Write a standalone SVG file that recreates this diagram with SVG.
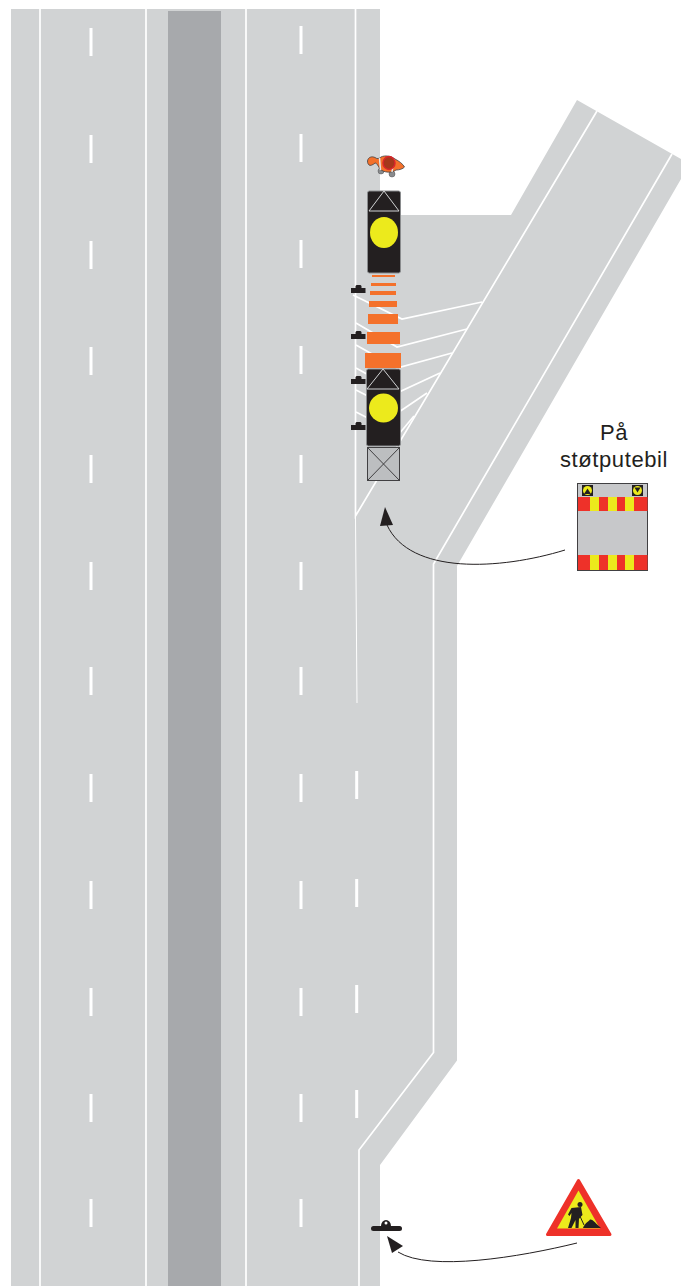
<svg xmlns="http://www.w3.org/2000/svg" width="681" height="1286" viewBox="0 0 681 1286">
<style>
.w{fill:none;stroke:#fff;stroke-width:1.700}
.d{fill:#fff}
.o{fill:#f4712b}
.tk{fill:#231f20;stroke:#8a8c8e;stroke-width:1}
.tri{fill:none;stroke:#d1d3d4;stroke-width:1}
.y{fill:#ecea1c}
.k{fill:#231f20}
.r{fill:#ee3129}
.a{fill:none;stroke:#231f20;stroke-width:1}
.t{font-family:"Liberation Sans",Arial,sans-serif;font-size:22px;letter-spacing:.6px;fill:#231f20;text-anchor:middle}
</style>
<defs>
<rect id="dash" x="-1.500" y="0" width="3" height="28" class="d"/>
<path id="cone" class="k" d="M351 3H355.500V1L356.500 0H360.500L361.500 1V3H365.500V8H351Z"/>
</defs>
<g id="road">
<path fill="#d1d3d4" d="M11 9H380V215H511L577 100L681 159V179L457 566V1060.500L380 1165V1286H11Z"/>
<rect x="168" y="11" width="53" height="1275" fill="#a7a9ac"/>
</g>
<g id="markings">
<path class="w" d="M40 9V1286M146 9V1286M246 9V1286"/>
<path class="w" d="M355.500 9V516L597 111"/>
<path d="M355.500 516L357 703" fill="none" stroke="#fff" stroke-width="1"/>
<path class="w" d="M672 154L433.500 564V1052.500L359 1150V1286"/>
<path class="w" d="M353 295L402 319L482 302M356 323L397 347L467 329M356 345L397 368L452 353M356 368L399 392L440 373M356 390L399 412L427 393M356 412L399 434L414 416"/>
<g id="dashes">
<use href="#dash" x="91" y="28"/><use href="#dash" x="91" y="135"/><use href="#dash" x="91" y="241"/><use href="#dash" x="91" y="347"/><use href="#dash" x="91" y="455"/><use href="#dash" x="91" y="562"/><use href="#dash" x="91" y="667"/><use href="#dash" x="91" y="774"/><use href="#dash" x="91" y="881"/><use href="#dash" x="91" y="988"/><use href="#dash" x="91" y="1094"/><use href="#dash" x="91" y="1199"/>
<use href="#dash" x="301" y="26"/><use href="#dash" x="301" y="134"/><use href="#dash" x="301" y="240"/><use href="#dash" x="301" y="346"/><use href="#dash" x="301" y="455"/><use href="#dash" x="301" y="562"/><use href="#dash" x="301" y="667"/><use href="#dash" x="301" y="774"/><use href="#dash" x="301" y="881"/><use href="#dash" x="301" y="988"/><use href="#dash" x="301" y="1094"/><use href="#dash" x="301" y="1199"/>
<use href="#dash" x="356.700" y="771"/><use href="#dash" x="356.700" y="879"/><use href="#dash" x="356.700" y="985"/><use href="#dash" x="356.700" y="1090"/>
</g>
</g>
<g id="cones">
<use href="#cone" y="285"/><use href="#cone" y="331"/><use href="#cone" y="376"/><use href="#cone" y="422"/>
</g>
<g id="flagman">
<circle cx="381" cy="171" r="3" fill="#8a8c8e" stroke="#4d4d4f" stroke-width=".5"/><circle cx="392" cy="174" r="3" fill="#8a8c8e" stroke="#4d4d4f" stroke-width=".5"/>
<path fill="#f4712b" stroke="#414042" stroke-width=".8" d="M367.500 161C368 157 372 156 375 157.500C377 159 379 159 381 157C385 155 391 156 395 159C399 161 403 164 404.500 167C403 169 399 170 396 170C392 173 384 173 380 169C378 166 377 163 375 163C373 165 370 166 369 165C368 164 367.500 163 367.500 161Z"/>
<path d="M379.500 158L380.500 170M394 159L392 172" fill="none" stroke="#e6e7e8" stroke-width="1.500"/>
<ellipse cx="389" cy="163" rx="6" ry="6.500" fill="#a5371b" stroke="#d9262b" stroke-width="1.500"/>
</g>
<g id="truck1">
<rect class="tk" x="367.500" y="191" width="33" height="82" rx="2"/>
<path class="tri" d="M384 191L369 211H399Z"/>
<ellipse class="y" cx="384" cy="232.500" rx="14" ry="15.500"/>
</g>
<g id="stripes">
<rect class="o" x="372" y="275" width="23" height="2"/>
<rect class="o" x="371" y="283" width="25" height="3"/>
<rect class="o" x="370" y="291" width="26" height="4"/>
<rect class="o" x="369" y="301" width="28" height="6"/>
<rect class="o" x="368" y="314" width="30" height="10"/>
<rect class="o" x="367" y="332" width="33" height="12"/>
<rect class="o" x="365" y="353" width="36" height="15"/>
</g>
<g id="truck2">
<rect class="tk" x="366.500" y="369" width="34" height="77" rx="2"/>
<path class="tri" d="M383 369L367 389H399Z"/>
<ellipse class="y" cx="383.500" cy="408" rx="14.500" ry="14.500"/>
<rect x="367.500" y="447.500" width="32" height="33" fill="#bcbec0" stroke="#414042"/>
<path d="M367.500 447.500L399.500 480.500M399.500 447.500L367.500 480.500" fill="none" stroke="#414042"/>
</g>
<g id="label"><text class="t" x="614" y="440">På</text><text class="t" x="614" y="467">støtputebil</text></g>
<g id="cushion-sign">
<rect x="577.500" y="483.500" width="70" height="87" fill="#c7c8ca" stroke="#414042"/>
<rect class="r" x="578" y="497" width="69.500" height="14"/><rect class="r" x="578" y="555" width="69.500" height="15"/>
<path class="y" d="M590 497h9v14h-9zM608 497h9v14h-9zM625 497h9v14h-9zM590 555h9v15h-9zM608 555h9v15h-9zM625 555h9v15h-9z"/>
<rect class="k" x="582" y="485" width="11" height="11"/><circle class="y" cx="587.500" cy="490.500" r="4.500"/><path class="k" d="M587.500 488.500L591 494H584Z"/>
<rect class="k" x="632" y="485" width="11" height="11"/><circle class="y" cx="637.500" cy="490.500" r="4.500"/><path class="k" d="M634.500 487.500H640.500L637.500 492.500Z"/>
</g>
<g id="connectors">
<path class="a" d="M565 550C500 570 410 575 387 525"/>
<path class="k" d="M385 507L380 526L393 525Z"/>
<path class="a" d="M577 1243C520 1257 430 1272 398 1252"/>
<path class="k" d="M387 1236L392 1253L403 1246Z"/>
</g>
<g id="roadside-cone">
<rect class="k" x="371" y="1226" width="31" height="5" rx="2.500"/>
<path class="k" d="M381 1226a5 6 0 0 1 10 0z"/><circle cx="386" cy="1223" r="1.500" fill="#fff"/>
</g>
<g id="warning-sign">
<path class="r" stroke="#ee3129" stroke-width="3" stroke-linejoin="round" d="M578.500 1180.500L610 1234.500H547.500Z"/>
<path class="y" d="M578.500 1190.500L600 1228.500H557Z"/>
<circle class="k" cx="580" cy="1204.500" r="2.500"/>
<path class="k" d="M571.500 1208L581 1207L582.500 1215L581 1216.500L579 1219L578.500 1228H575.500L575.500 1220L571.500 1228H568L571 1218L571.500 1213L569.500 1216L568 1214.500Z"/>
<path d="M579 1214L584 1225" fill="none" stroke="#231f20" stroke-width="1"/>
<path class="k" d="M583 1228C585 1223 588 1222 590 1219.500C593 1219 596 1224 601 1228Z"/>
</g>
</svg>
